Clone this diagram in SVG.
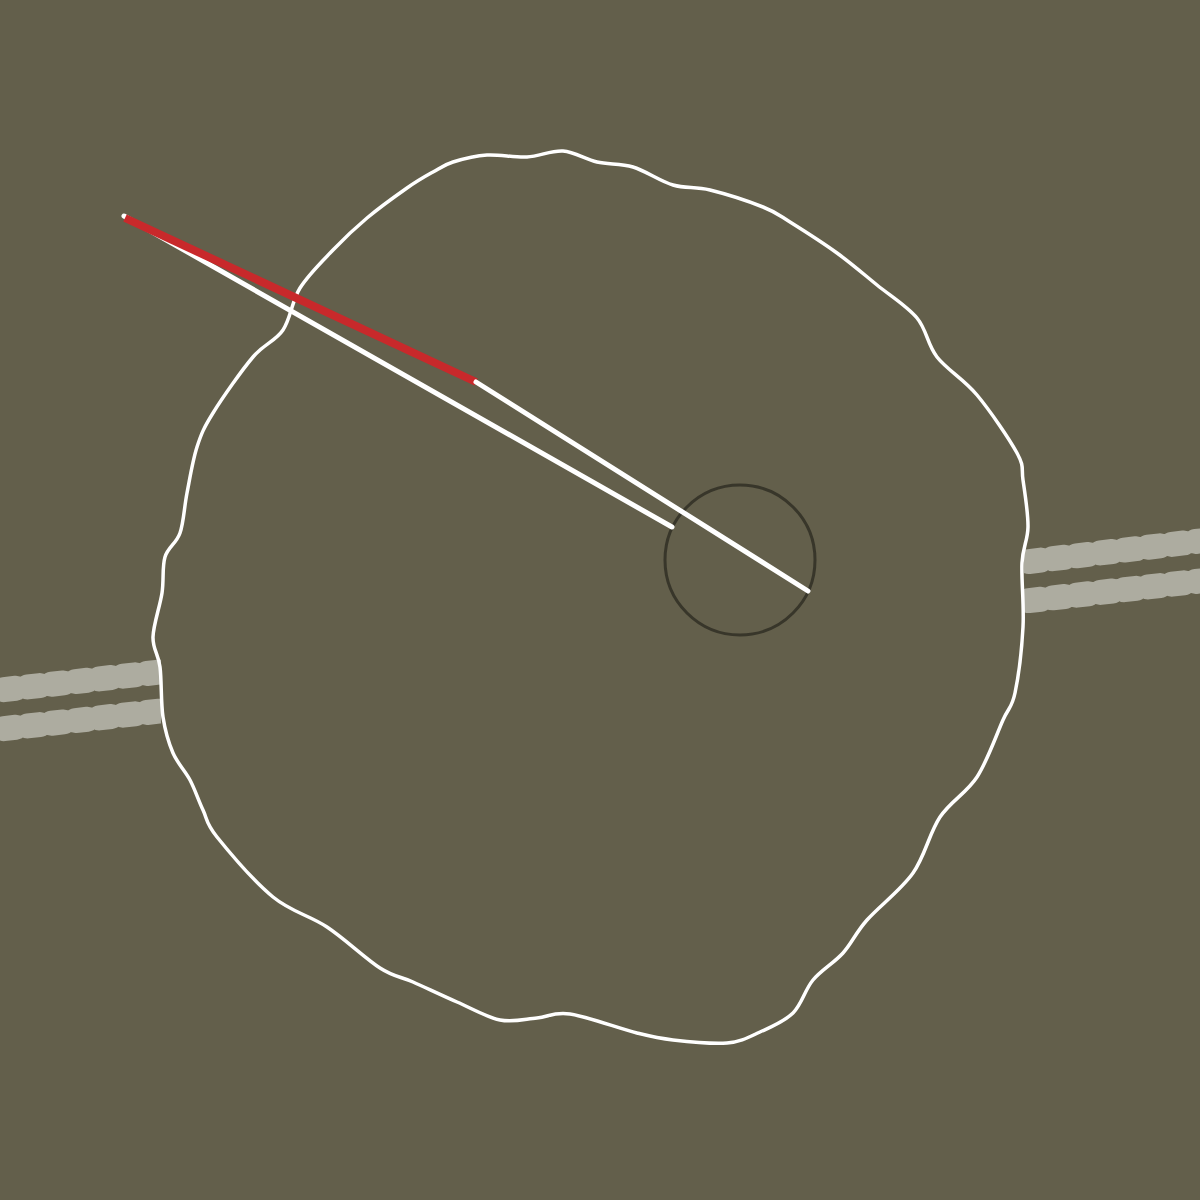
<svg xmlns="http://www.w3.org/2000/svg" width="1200" height="1200" viewBox="0 0 1200 1200">
  <defs>
    <style>
      .track { fill: none; stroke: #adaca0; stroke-width: 25; stroke-linecap: round; stroke-dasharray: 12 12; }
      .outline { fill: none; stroke: #ffffff; stroke-width: 3.5; stroke-linejoin: round; }
      .wline { fill: none; stroke: #ffffff; stroke-width: 5; stroke-linecap: round; }
      .rline { fill: none; stroke: #c8292b; stroke-width: 8; stroke-linecap: butt; }
      .ring { fill: none; stroke: #38362a; stroke-width: 3; }
    </style>
    <clipPath id="clipL"><rect x="0" y="0" width="161" height="1200"/></clipPath>
    <clipPath id="clipR"><rect x="1024" y="0" width="176" height="1200"/></clipPath>
  </defs>
  <rect x="0" y="0" width="1200" height="1200" fill="#635f4b"/>
  <g id="tracks-left" clip-path="url(#clipL)">
    <line class="track" x1="-20" y1="692.3" x2="180" y2="669.8"/>
    <line class="track" x1="-20" y1="731.3" x2="180" y2="708.8"/>
  </g>
  <g id="tracks-right" clip-path="url(#clipR)">
    <line class="track" x1="1005" y1="564.4" x2="1220" y2="538.6"/>
    <line class="track" x1="1005" y1="603.3" x2="1220" y2="578.7"/>
  </g>
  <g id="blob">
    <path class="outline" d="M487,155 C499.3,154.2 514.3,157.7 527,157
      S551.3,150.2 563,151 S585.3,159.3 597,162 S620.3,163.2 633,167 S660.2,181.2 673,185
      S695,186.3 710,190 S749.7,201.7 763,207 S777.7,214.3 790,222 S822.5,242.5 837,253
      S863.7,274.2 877,285 S907,306 917,318 S927,344.2 937,357 S963.7,379 977,395
      S1009.3,438.8 1017,453 S1021.2,467.7 1023,480 S1028.2,513.2 1028,527 S1022.8,546.3 1022,563
      S1024.2,605.3 1023,627 S1018.3,677.5 1015,693 S1009.3,706 1003,720 S987.5,760.8 977,777
      S950.7,801 940,817 S925.2,855.8 913,873 S878.7,906.7 867,920 S852,943 843,953
      S821.3,970 813,980 S801.8,1004.3 793,1013 S771,1027 760,1032 S741.5,1041.7 727,1043
      S688,1041.7 673,1040 S654.2,1037.3 637,1033 S586.7,1016.5 570,1014 S548.7,1017 537,1018
      S513.3,1022.7 500,1020 S471.5,1008.3 457,1002 S425.8,987.7 413,982 S394.3,977.2 380,968 S344.8,938.8 327,927
      S291.3,912 273,897 S228.7,851.5 217,837 S207.5,819.5 203,810 S195,789.5 190,780
      S177.5,763.5 173,753 S165.2,731.3 163,717 S161.7,680.3 160,667 S152.7,649.3 153,637
      S160,606.3 162,593 S162,567 165,557 S176.3,543.7 180,533 S184.2,507.3 187,493
      S192.7,460.3 197,447 S203.7,428 213,413 S241.3,370.8 253,357 S275.2,341.5 283,330
      S291.7,301.3 300,288 S321.8,261.7 333,250 S354.7,228.3 367,218 S396,195.7 407,188
      S425.3,176.3 433,172 S444,164.8 453,162 S474.7,155.8 487,155 Z"/>
  </g>
  <g id="ring">
    <circle class="ring" cx="740" cy="560" r="75"/>
  </g>
  <g id="connectors">
    <line class="wline" x1="124" y1="216" x2="672" y2="527"/>
    <line class="rline" x1="125" y1="218" x2="476" y2="382"/>
    <line class="wline" x1="476" y1="382" x2="808" y2="591"/>
  </g>
</svg>
